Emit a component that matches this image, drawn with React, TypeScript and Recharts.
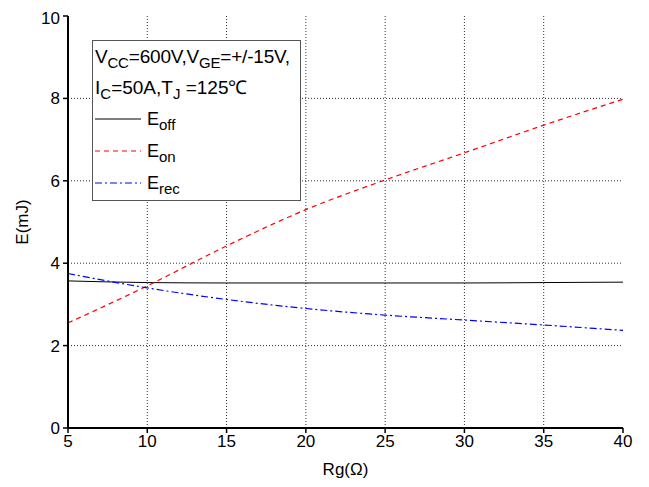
import React from 'react';
import { LineChart, Line, XAxis, YAxis, CartesianGrid } from 'recharts';

// gate resistance (ohm)
const rg = [5, 10, 15, 20, 25, 30, 35, 40];
// switching energies (mJ)
const eOff = [3.57, 3.53, 3.52, 3.52, 3.52, 3.52, 3.53, 3.54];
const eOn = [2.55, 3.45, 4.42, 5.3, 6.02, 6.68, 7.35, 7.98];
const eRec = [3.75, 3.4, 3.12, 2.9, 2.74, 2.62, 2.5, 2.37];

const xTicks = [5, 10, 15, 20, 25, 30, 35, 40];
const xMinor = [7.5, 12.5, 17.5, 22.5, 27.5, 32.5, 37.5];
const yTicks = [0, 2, 4, 6, 8, 10];
const yMinor = [1, 3, 5, 7, 9];

const data = rg.map((r, i) => ({ rg: r, eoff: eOff[i], eon: eOn[i], erec: eRec[i] }));

const FONT = '"Liberation Sans", Arial, sans-serif';
const blank = () => '';

function Sample({ color, dash }: { color: string; dash?: string }) {
  return (
    <svg width={46} height={4} style={{ display: 'block' }}>
      <line x1={0} y1={2} x2={46} y2={2} stroke={color} strokeWidth={1} strokeDasharray={dash} />
    </svg>
  );
}

function LegendBox() {
  const sub: React.CSSProperties = { fontSize: 15, position: 'relative', top: 5 };
  const row: React.CSSProperties = { display: 'flex', alignItems: 'center', height: 32 };
  return (
    <div
      style={{
        position: 'absolute',
        left: 84,
        top: 32,
        width: 209,
        height: 161,
        border: '1px solid #555',
        background: '#fff',
        fontFamily: FONT,
        fontSize: 19,
        color: '#000',
        boxSizing: 'border-box',
        padding: '0 0 0 2px',
        lineHeight: '31px',
      }}
    >
      <div style={{ whiteSpace: 'nowrap', height: 31, letterSpacing: -0.2 }}>
        V<span style={sub}>CC</span>=600V,V<span style={sub}>GE</span>=+/-15V,
      </div>
      <div style={{ whiteSpace: 'nowrap', height: 31 }}>
        I<span style={sub}>C</span>=50A,T<span style={sub}>J</span> =125℃
      </div>
      <div style={row}>
        <Sample color="#000" />
        <span style={{ marginLeft: 6, fontSize: 18 }}>E<span style={sub}>off</span></span>
      </div>
      <div style={row}>
        <Sample color="#ff0000" dash="5 4" />
        <span style={{ marginLeft: 6, fontSize: 18 }}>E<span style={sub}>on</span></span>
      </div>
      <div style={row}>
        <Sample color="#0000ff" dash="7 3 2 3" />
        <span style={{ marginLeft: 6, fontSize: 18 }}>E<span style={sub}>rec</span></span>
      </div>
    </div>
  );
}

export default function App() {
  const tickStyle = { fontSize: 17, fill: '#000', fontFamily: FONT };
  return (
    <div style={{ position: 'relative', width: 640, height: 479, background: '#fff' }}>
      <LineChart width={640} height={479} data={data} margin={{ top: 8, right: 25, bottom: 12, left: 0 }}>
        <CartesianGrid stroke="#333" strokeDasharray="1 2" horizontalValues={[2, 4, 6, 8]} verticalValues={[10, 15, 20, 25, 30, 35]} />
        {/* minor ticks, drawn inward */}
        <XAxis xAxisId="minor" dataKey="rg" type="number" domain={[5, 40]} allowDataOverflow ticks={xMinor}
          height={0} mirror axisLine={false} tickSize={3} tickLine={{ stroke: '#000' }} tickFormatter={blank} />
        <XAxis dataKey="rg" type="number" domain={[5, 40]} ticks={xTicks} height={47}
          axisLine={{ stroke: '#000', strokeWidth: 2 }} tickLine={{ stroke: '#000', strokeWidth: 1.5 }} tickSize={5}
          tick={tickStyle} tickMargin={2}
          label={{ value: 'Rg(Ω)', position: 'insideBottom', offset: 0, style: { fontSize: 17, fill: '#000', fontFamily: FONT } }} />
        <XAxis xAxisId="top" orientation="top" dataKey="rg" type="number" domain={[5, 40]} allowDataOverflow
          ticks={[...xTicks, ...xMinor]} height={0} mirror axisLine={{ stroke: '#000', strokeWidth: 2 }}
          tickSize={3} tickLine={{ stroke: '#000' }} tickFormatter={blank} />
        <YAxis yAxisId="minor" type="number" domain={[0, 10]} allowDataOverflow ticks={yMinor} width={0} mirror
          axisLine={false} tickSize={3} tickLine={{ stroke: '#000' }} tickFormatter={blank} />
        <YAxis type="number" domain={[0, 10]} ticks={yTicks} width={60}
          axisLine={{ stroke: '#000', strokeWidth: 2 }} tickLine={{ stroke: '#000', strokeWidth: 1.5 }} tickSize={5}
          tick={tickStyle} tickMargin={3}
          label={{ value: 'E(mJ)', angle: -90, position: 'insideLeft', offset: 14, style: { fontSize: 17, fill: '#000', fontFamily: FONT, textAnchor: 'middle' } }} />
        <YAxis yAxisId="right" orientation="right" type="number" domain={[0, 10]} allowDataOverflow
          ticks={[...yTicks, ...yMinor]} width={0} axisLine={{ stroke: '#000', strokeWidth: 2 }}
          tickSize={2} tickLine={{ stroke: '#000' }} tickFormatter={blank} />
        <Line dataKey="eoff" type="monotone" stroke="#000" strokeWidth={1} dot={false} isAnimationActive={false} />
        <Line dataKey="eon" type="monotone" stroke="#ff0000" strokeWidth={1.2} strokeDasharray="5 4" dot={false} isAnimationActive={false} />
        <Line dataKey="erec" type="monotone" stroke="#0000ff" strokeWidth={1.2} strokeDasharray="7 3 2 3" dot={false} isAnimationActive={false} />
      </LineChart>
      <LegendBox />
    </div>
  );
}
